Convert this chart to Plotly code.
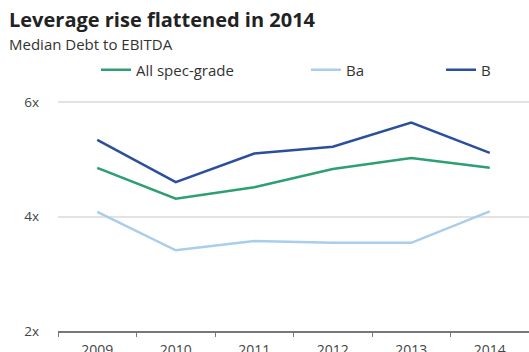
import plotly.graph_objects as go

years = ["2009", "2010", "2011", "2012", "2013", "2014"]
all_spec = [4.85, 4.31, 4.51, 4.83, 5.02, 4.85]
ba = [4.08, 3.41, 3.57, 3.54, 3.54, 4.09]
b = [5.34, 4.60, 5.10, 5.22, 5.64, 5.11]

series_names = ["All spec-grade", "Ba", "B"]
y_ticks = [2, 4, 6]
y_labels = ["2x", "4x", "6x"]

GREEN = "#2e9e73"
LIGHT = "#a9cdea"
DARK = "#2b4f9c"
FONT = "Open Sans"

fig = go.Figure()
fig.add_trace(go.Scatter(x=years, y=ba, mode="lines", name=series_names[1],
                         line=dict(color=LIGHT, width=2.5), legend="legend2"))
fig.add_trace(go.Scatter(x=years, y=all_spec, mode="lines", name=series_names[0],
                         line=dict(color=GREEN, width=2.5), legend="legend"))
fig.add_trace(go.Scatter(x=years, y=b, mode="lines", name=series_names[2],
                         line=dict(color=DARK, width=2.5), legend="legend3"))

leg_common = dict(orientation="h", xref="container", yref="container",
                  xanchor="left", yanchor="middle", bgcolor="rgba(0,0,0,0)",
                  font=dict(family=FONT, size=15, color="#333333"))

fig.update_layout(
    width=529, height=352,
    showlegend=True,
    margin=dict(l=58, r=0, t=90, b=21, autoexpand=False),
    paper_bgcolor="white", plot_bgcolor="white",
    font=dict(family=FONT, color="#333333"),
    legend=dict(x=96 / 529, y=1 - 70 / 352, **leg_common),
    legend2=dict(x=306 / 529, y=1 - 70 / 352, **leg_common),
    legend3=dict(x=441 / 529, y=1 - 70 / 352, **leg_common),
    xaxis=dict(type="category", tickson="boundaries", ticks="outside",
               ticklen=4, tickcolor="#777777", showline=True,
               linecolor="#777777", linewidth=1.5, showgrid=False,
               range=[-0.5, 5.5], ticklabelstandoff=5, automargin=False,
               tickfont=dict(family=FONT, size=14, color="#444444")),
    yaxis=dict(range=[2, 6.2096], tickvals=y_ticks, ticktext=y_labels,
               showgrid=True, gridcolor="#e3e3e3", gridwidth=1.5,
               zeroline=False, ticks="", ticklabelstandoff=18, automargin=False,
               tickfont=dict(family=FONT, size=13.5, color="#444444")),
    annotations=[
        dict(text="<b>Leverage rise flattened in 2014</b>", xref="paper", yref="paper",
             x=-51 / 471, y=1 + 70 / 241, xanchor="left", yanchor="middle",
             showarrow=False, font=dict(family=FONT, size=20, color="#222222")),
        dict(text="Median Debt to EBITDA", xref="paper", yref="paper",
             x=-51 / 471, y=1 + 46 / 241, xanchor="left", yanchor="middle",
             showarrow=False, font=dict(family=FONT, size=15, color="#333333")),
    ],
)

fig.write_html("out.html")
